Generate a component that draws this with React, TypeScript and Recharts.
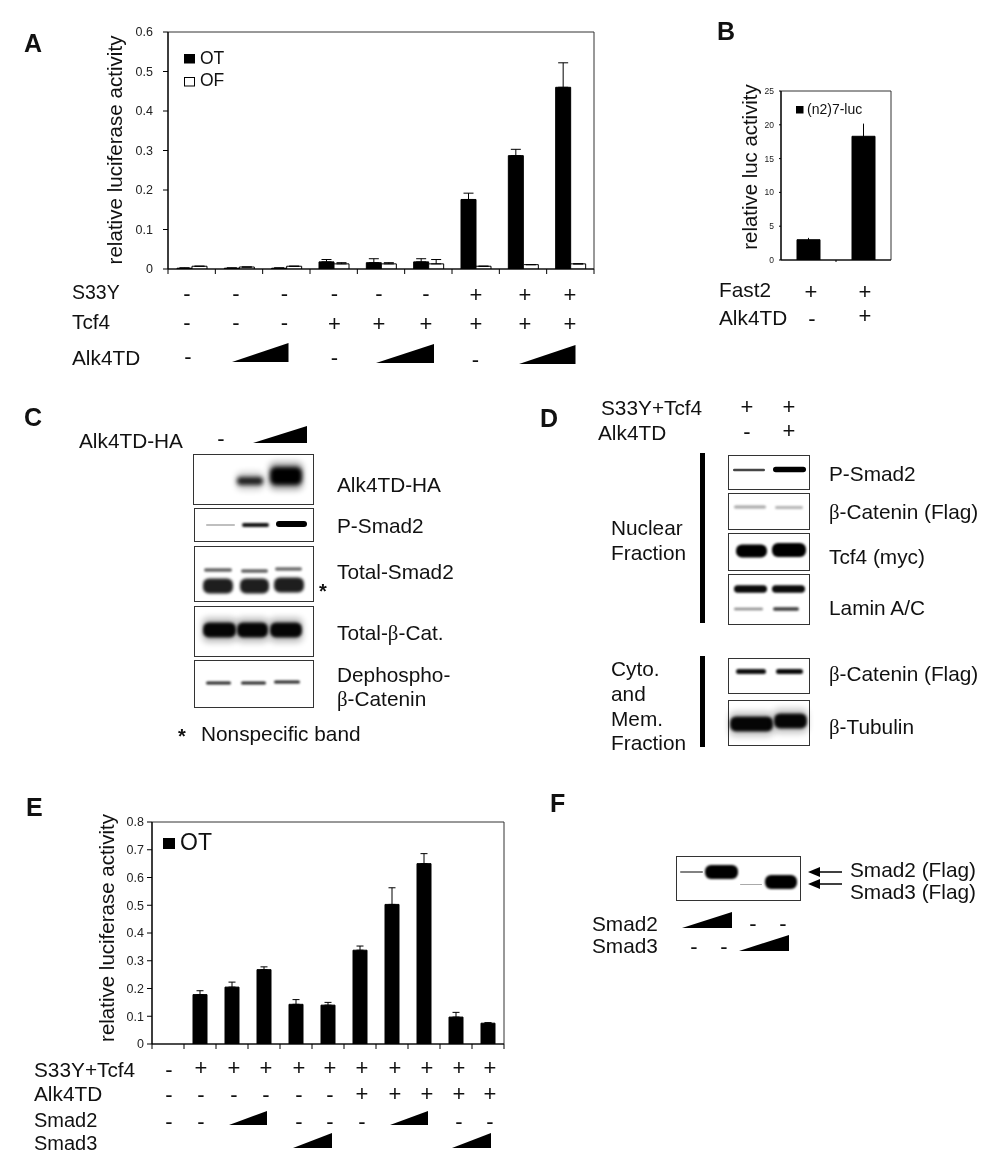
import React from 'react';
import { BarChart, Bar, XAxis, YAxis, ErrorBar, ReferenceArea } from 'recharts';

const FONT = '"Liberation Sans", Arial, sans-serif';

// ---------- Panel A ----------
const aCategories = ['a1', 'a2', 'a3', 'a4', 'a5', 'a6', 'a7', 'a8', 'a9'];
const aOT = [0.002, 0.002, 0.002, 0.018, 0.016, 0.018, 0.176, 0.287, 0.46];
const aOTErr = [0.001, 0.001, 0.001, 0.006, 0.01, 0.008, 0.016, 0.016, 0.062];
const aOF = [0.007, 0.005, 0.007, 0.013, 0.013, 0.013, 0.007, 0.011, 0.013];
const aOFErr = [0, 0, 0, 0.003, 0.003, 0.011, 0, 0, 0];
const aTicks = [0, 0.1, 0.2, 0.3, 0.4, 0.5, 0.6];
const aS33Y = ['-', '-', '-', '-', '-', '-', '+', '+', '+'];
const aTcf4 = ['-', '-', '-', '+', '+', '+', '+', '+', '+'];

// ---------- Panel B ----------
const bCategories = ['Fast2', 'Fast2+Alk4TD'];
const bValues = [3.0, 18.3];
const bErr = [0.2, 1.8];
const bTicks = [0, 5, 10, 15, 20, 25];

// ---------- Panel E ----------
const eCategories = ['e1', 'e2', 'e3', 'e4', 'e5', 'e6', 'e7', 'e8', 'e9', 'e10', 'e11'];
const eOT = [0, 0.178, 0.205, 0.268, 0.143, 0.14, 0.338, 0.503, 0.65, 0.097, 0.075];
const eErr = [0, 0.014, 0.018, 0.01, 0.017, 0.01, 0.015, 0.06, 0.036, 0.017, 0.002];
const eTicks = [0, 0.1, 0.2, 0.3, 0.4, 0.5, 0.6, 0.7, 0.8];
const eS33YTcf4 = ['-', '+', '+', '+', '+', '+', '+', '+', '+', '+', '+'];
const eAlk4TD = ['-', '-', '-', '-', '-', '-', '+', '+', '+', '+', '+'];
const eSmad2 = ['-', '-', '', '', '-', '-', '-', '', '', '-', '-'];

const aData = aCategories.map((name, i) => ({ name, OT: aOT[i], OF: aOF[i], otErr: [0, aOTErr[i]], ofErr: [0, aOFErr[i]] }));
const bData = bCategories.map((name, i) => ({ name, v: bValues[i], err: [0, bErr[i]] }));
const eData = eCategories.map((name, i) => ({ name, OT: eOT[i], err: [0, eErr[i]] }));

// ---------- layout ----------
const aRowX = [187, 236, 284.5, 334.5, 379, 426, 476, 525, 570];
const eRowX = [169, 201, 234, 266, 299, 330, 362, 395, 427, 459, 490];

function T({ x, y, s = 20.8, w, a, children }: any) {
  return (
    <text x={x} y={y} fontSize={s} fontWeight={w} textAnchor={a} fontFamily={FONT} fill="#111">
      {children}
    </text>
  );
}
function Beta() {
  return <tspan fontFamily='"Liberation Serif", serif'>β</tspan>;
}
function Sym({ x, y, c, s = 22 }: any) {
  if (!c) return null;
  const base = c === '+' ? y + 0.33 * s : y + 0.27 * s;
  return (
    <text x={x} y={base} fontSize={s} textAnchor="middle" fontFamily={FONT} fill="#111">
      {c}
    </text>
  );
}
function Wedge({ x1, x2, y, h }: any) {
  return <polygon points={`${x1},${y} ${x2},${y} ${x2},${y - h}`} fill="#000" />;
}
function Frame({ x1, y1, x2, y2 }: any) {
  return <rect x={x1 + 0.5} y={y1 + 0.5} width={x2 - x1} height={y2 - y1} fill="#fff" stroke="#333" strokeWidth={1} />;
}
// x1, x2, centre y, height, grey level, blur, halo opacity
function Band({ x1, x2, y, h, g = 0, b = 1, halo = 0 }: any) {
  const fill = `rgb(${g},${g},${g})`;
  return (
    <g>
      {halo > 0 && (
        <rect x={x1 - 1} y={y - h / 2 - 5} width={x2 - x1 + 2} height={h + 10} rx={6} fill="#000" opacity={halo} style={{ filter: 'blur(3px)' }} />
      )}
      <rect x={x1} y={y - h / 2} width={x2 - x1} height={h} rx={Math.min(h / 2, 6)} fill={fill} style={{ filter: `blur(${b}px)` }} />
    </g>
  );
}

function Panel({ left, top, width, height, plot, data, yDomain, yTicks, tickSize = 5, tickMargin, fontSize, edgeSize = 5, midOnly, barSize, barGap, children }: any) {
  const n = data.length;
  const step = (plot.x2 - plot.x1) / n;
  const axisY = plot.y2 - top;
  const EdgeTick = ({ x, index }: any) => (
    <g>
      {(!midOnly || index > 0) && <line x1={x - step / 2} x2={x - step / 2} y1={axisY} y2={axisY + edgeSize} stroke="#000" strokeWidth={1} />}
      {!midOnly && index === n - 1 && <line x1={x + step / 2} x2={x + step / 2} y1={axisY} y2={axisY + edgeSize} stroke="#000" strokeWidth={1} />}
    </g>
  );
  return (
    <div style={{ position: 'absolute', left, top }}>
      <BarChart
        width={width}
        height={height}
        data={data}
        barSize={barSize}
        barGap={barGap}
        margin={{ top: plot.y1 - top, right: left + width - plot.x2, bottom: top + height - plot.y2 - 1, left: 0 }}
      >
        <XAxis dataKey="name" interval={0} tick={EdgeTick} tickLine={false} tickSize={0} tickMargin={0} axisLine={{ stroke: '#000', strokeWidth: 1.2 }} height={1} />
        <YAxis
          type="number"
          width={plot.x1 - left}
          domain={yDomain}
          ticks={yTicks}
          interval={0}
          allowDataOverflow
          tickSize={tickSize}
          tickMargin={tickMargin}
          axisLine={{ stroke: '#000', strokeWidth: 1.2 }}
          tickLine={{ stroke: '#000', strokeWidth: 1 }}
          tick={{ fontSize, fontFamily: FONT, fill: '#222' }}
        />
        <ReferenceArea y1={yDomain[0]} y2={yDomain[1]} fill="none" stroke="#333" strokeWidth={1} ifOverflow="visible" />
        {children}
      </BarChart>
    </div>
  );
}

function Annotations() {
  return (
    <svg width={1002} height={1176} style={{ position: 'absolute', left: 0, top: 0, pointerEvents: 'none' }}>
      {/* panel letters */}
      <T x={24} y={52} s={25} w="bold">A</T>
      <T x={717} y={40} s={25} w="bold">B</T>
      <T x={24} y={426} s={25} w="bold">C</T>
      <T x={540} y={427} s={25} w="bold">D</T>
      <T x={26} y={816} s={25} w="bold">E</T>
      <T x={550} y={812} s={25} w="bold">F</T>

      {/* A */}
      <text transform="translate(122,150) rotate(-90)" textAnchor="middle" fontSize={20.6} fontFamily={FONT} fill="#111">relative luciferase activity</text>
      <rect x={184} y={54} width={11} height={9.5} fill="#000" />
      <rect x={184.5} y={77.5} width={10} height={8.5} fill="#fff" stroke="#000" strokeWidth={1} />
      <T x={200} y={64} s={17.5}>OT</T>
      <T x={200} y={86} s={17.5}>OF</T>
      <T x={72} y={299} s={19.5}>S33Y</T>
      <T x={72} y={329}>Tcf4</T>
      <T x={72} y={365}>Alk4TD</T>
      {aS33Y.map((c, i) => <Sym key={i} x={aRowX[i]} y={295} c={c} />)}
      {aTcf4.map((c, i) => <Sym key={i} x={aRowX[i]} y={324} c={c} />)}
      <Sym x={188} y={358} c="-" />
      <Sym x={334.5} y={359} c="-" />
      <Sym x={475.5} y={361} c="-" />
      <Wedge x1={232} x2={288.5} y={362} h={19} />
      <Wedge x1={376} x2={434} y={363} h={19} />
      <Wedge x1={519} x2={575.5} y={364} h={19} />

      {/* B */}
      <text transform="translate(757,167) rotate(-90)" textAnchor="middle" fontSize={20.4} fontFamily={FONT} fill="#111">relative luc activity</text>
      <rect x={796} y={106} width={7.5} height={7.5} fill="#000" />
      <T x={807} y={114} s={14}>(n2)7-luc</T>
      <T x={719} y={297}>Fast2</T>
      <T x={719} y={325}>Alk4TD</T>
      <Sym x={811} y={292} c="+" />
      <Sym x={865} y={292} c="+" />
      <Sym x={812} y={320} c="-" />
      <Sym x={865} y={316} c="+" />

      {/* C */}
      <T x={79} y={448}>Alk4TD-HA</T>
      <Sym x={221} y={440} c="-" />
      <Wedge x1={253} x2={307} y={443} h={17} />
      <Frame x1={193} y1={454} x2={313} y2={504} />
      <Frame x1={194} y1={508} x2={313} y2={541} />
      <Frame x1={194} y1={546} x2={313} y2={601} />
      <Frame x1={194} y1={606} x2={313} y2={656} />
      <Frame x1={194} y1={660} x2={313} y2={707} />
      <Band x1={237} x2={263} y={481} h={8} g={30} b={2} halo={0.2} />
      <Band x1={270} x2={302} y={476} h={18} g={0} b={2.2} halo={0.35} />
      <Band x1={206} x2={235} y={525} h={1.5} g={170} b={0.6} />
      <Band x1={242} x2={269} y={525} h={4} g={20} b={0.8} />
      <Band x1={276} x2={307} y={524} h={6} g={0} b={0.7} />
      <Band x1={204} x2={232} y={570} h={3.5} g={100} b={1} />
      <Band x1={241} x2={268} y={571} h={3.5} g={100} b={1} />
      <Band x1={275} x2={302} y={569} h={3.5} g={110} b={1} />
      <Band x1={203} x2={233} y={586} h={15} g={30} b={1.6} />
      <Band x1={240} x2={269} y={586} h={15} g={30} b={1.6} />
      <Band x1={274} x2={304} y={585} h={15} g={30} b={1.6} />
      <Band x1={203} x2={236} y={630} h={15} g={5} b={1.8} halo={0.25} />
      <Band x1={237} x2={268} y={630} h={15} g={5} b={1.8} halo={0.25} />
      <Band x1={270} x2={302} y={630} h={15} g={5} b={1.8} halo={0.25} />
      <Band x1={206} x2={231} y={683} h={3} g={40} b={0.8} />
      <Band x1={241} x2={266} y={683} h={3} g={40} b={0.8} />
      <Band x1={274} x2={300} y={682} h={3} g={40} b={0.8} />
      <T x={337} y={492}>Alk4TD-HA</T>
      <T x={337} y={533}>P-Smad2</T>
      <T x={337} y={579}>Total-Smad2</T>
      <T x={337} y={640}>Total-<Beta />-Cat.</T>
      <T x={337} y={682}>Dephospho-</T>
      <T x={337} y={706}><Beta />-Catenin</T>
      <T x={323} y={598} s={20} w="bold" a="middle">*</T>
      <T x={182} y={743} s={20} w="bold" a="middle">*</T>
      <T x={201} y={741}>Nonspecific band</T>

      {/* D */}
      <T x={601} y={415}>S33Y+Tcf4</T>
      <T x={598} y={440}>Alk4TD</T>
      <Sym x={747} y={407} c="+" />
      <Sym x={789} y={407} c="+" />
      <Sym x={747} y={433} c="-" />
      <Sym x={789} y={431} c="+" />
      <rect x={700} y={453} width={5} height={170} fill="#000" />
      <rect x={700} y={656} width={5} height={91} fill="#000" />
      <T x={611} y={535}>Nuclear</T>
      <T x={611} y={560}>Fraction</T>
      <T x={611} y={676}>Cyto.</T>
      <T x={611} y={701}>and</T>
      <T x={611} y={726}>Mem.</T>
      <T x={611} y={750}>Fraction</T>
      <Frame x1={728} y1={455} x2={809} y2={489} />
      <Frame x1={728} y1={493} x2={809} y2={529} />
      <Frame x1={728} y1={533} x2={809} y2={570} />
      <Frame x1={728} y1={574} x2={809} y2={624} />
      <Frame x1={728} y1={658} x2={809} y2={693} />
      <Frame x1={728} y1={700} x2={809} y2={745} />
      <Band x1={733} x2={765} y={470} h={2.5} g={70} b={0.7} />
      <Band x1={773} x2={806} y={469.5} h={5.5} g={0} b={0.7} />
      <Band x1={734} x2={766} y={507} h={3} g={165} b={1} />
      <Band x1={775} x2={803} y={507.5} h={3} g={180} b={1} />
      <Band x1={736} x2={767} y={551} h={13} g={0} b={1} />
      <Band x1={772} x2={806} y={550} h={14} g={0} b={1} />
      <Band x1={734} x2={767} y={589} h={7.5} g={10} b={1} />
      <Band x1={772} x2={805} y={589} h={7.5} g={10} b={1} />
      <Band x1={734} x2={763} y={609} h={2.5} g={140} b={0.8} />
      <Band x1={773} x2={799} y={609} h={3.5} g={60} b={0.9} />
      <Band x1={736} x2={766} y={671.5} h={5} g={15} b={0.8} />
      <Band x1={776} x2={803} y={671.5} h={5} g={10} b={0.8} />
      <Band x1={730} x2={773} y={724} h={15} g={5} b={1.5} halo={0.22} />
      <Band x1={774} x2={807} y={721} h={15} g={5} b={1.5} halo={0.22} />
      <T x={829} y={481}>P-Smad2</T>
      <T x={829} y={519}><Beta />-Catenin (Flag)</T>
      <T x={829} y={564}>Tcf4 (myc)</T>
      <T x={829} y={615}>Lamin A/C</T>
      <T x={829} y={681}><Beta />-Catenin (Flag)</T>
      <T x={829} y={734}><Beta />-Tubulin</T>

      {/* E */}
      <text transform="translate(114,928) rotate(-90)" textAnchor="middle" fontSize={20.5} fontFamily={FONT} fill="#111">relative luciferase activity</text>
      <rect x={163} y={838} width={12} height={11} fill="#000" />
      <T x={180} y={850} s={23}>OT</T>
      <T x={34} y={1077}>S33Y+Tcf4</T>
      <T x={34} y={1101}>Alk4TD</T>
      <T x={34} y={1127} s={20}>Smad2</T>
      <T x={34} y={1150} s={20}>Smad3</T>
      {eS33YTcf4.map((c, i) => <Sym key={i} x={eRowX[i]} y={c === '+' ? 1068 : 1071} c={c} />)}
      {eAlk4TD.map((c, i) => <Sym key={i} x={eRowX[i]} y={c === '+' ? 1094 : 1096} c={c} />)}
      {eSmad2.map((c, i) => <Sym key={i} x={eRowX[i]} y={1123} c={c} />)}
      <Wedge x1={229} x2={267} y={1125} h={14} />
      <Wedge x1={390} x2={428} y={1125} h={14} />
      <Wedge x1={293} x2={332} y={1148} h={15} />
      <Wedge x1={452} x2={491} y={1148} h={15} />

      {/* F */}
      <Frame x1={676} y1={856} x2={800} y2={900} />
      <Band x1={680} x2={703} y={872} h={1.5} g={90} b={0.6} />
      <Band x1={705} x2={738} y={872} h={14} g={0} b={1} />
      <Band x1={740} x2={762} y={884.5} h={1} g={170} b={0.6} />
      <Band x1={765} x2={797} y={882} h={14} g={0} b={1} />
      <line x1={820} y1={872} x2={842} y2={872} stroke="#000" strokeWidth={1.5} />
      <line x1={820} y1={884} x2={842} y2={884} stroke="#000" strokeWidth={1.5} />
      <polygon points="808,872 820,867 820,877" fill="#000" />
      <polygon points="808,884 820,879 820,889" fill="#000" />
      <T x={850} y={877}>Smad2 (Flag)</T>
      <T x={850} y={899}>Smad3 (Flag)</T>
      <T x={592} y={931}>Smad2</T>
      <T x={592} y={953}>Smad3</T>
      <Wedge x1={682} x2={732} y={928} h={16} />
      <Wedge x1={739} x2={789} y={951} h={16} />
      <Sym x={753} y={925} c="-" />
      <Sym x={783} y={925} c="-" />
      <Sym x={694} y={948} c="-" />
      <Sym x={724} y={948} c="-" />
    </svg>
  );
}

export default function App() {
  return (
    <div style={{ position: 'absolute', left: 0, top: 0, width: 1002, height: 1176, background: '#fff', overflow: 'hidden', filter: 'blur(0.35px)' }}>
      <Panel
        left={120} top={20} width={500} height={260}
        plot={{ x1: 168, x2: 594, y1: 32, y2: 269 }}
        data={aData} yDomain={[0, 0.6]} yTicks={aTicks}
        tickMargin={10} fontSize={12.5}
        barSize={15} barGap={0}
      >
        <Bar dataKey="OT" fill="#000" stroke="#000" isAnimationActive={false}>
          <ErrorBar dataKey="otErr" width={5} stroke="#000" strokeWidth={1} direction="y" isAnimationActive={false} />
        </Bar>
        <Bar dataKey="OF" fill="#fff" stroke="#000" isAnimationActive={false}>
          <ErrorBar dataKey="ofErr" width={5} stroke="#000" strokeWidth={1} direction="y" isAnimationActive={false} />
        </Bar>
      </Panel>

      <Panel
        left={760} top={80} width={140} height={190}
        plot={{ x1: 781, x2: 891, y1: 91, y2: 260 }}
        data={bData} yDomain={[0, 25]} yTicks={bTicks}
        tickSize={2} tickMargin={5} fontSize={8.5}
        edgeSize={2} midOnly
        barSize={23}
      >
        <Bar dataKey="v" fill="#000" stroke="#000" isAnimationActive={false}>
          <ErrorBar dataKey="err" width={0.5} stroke="#000" strokeWidth={1} direction="y" isAnimationActive={false} />
        </Bar>
      </Panel>

      <Panel
        left={110} top={810} width={410} height={250}
        plot={{ x1: 152, x2: 504, y1: 822, y2: 1044 }}
        data={eData} yDomain={[0, 0.8]} yTicks={eTicks}
        tickMargin={3} fontSize={12.5}
        barSize={14}
      >
        <Bar dataKey="OT" fill="#000" stroke="#000" isAnimationActive={false}>
          <ErrorBar dataKey="err" width={3.5} stroke="#000" strokeWidth={1} direction="y" isAnimationActive={false} />
        </Bar>
      </Panel>

      <Annotations />
    </div>
  );
}
